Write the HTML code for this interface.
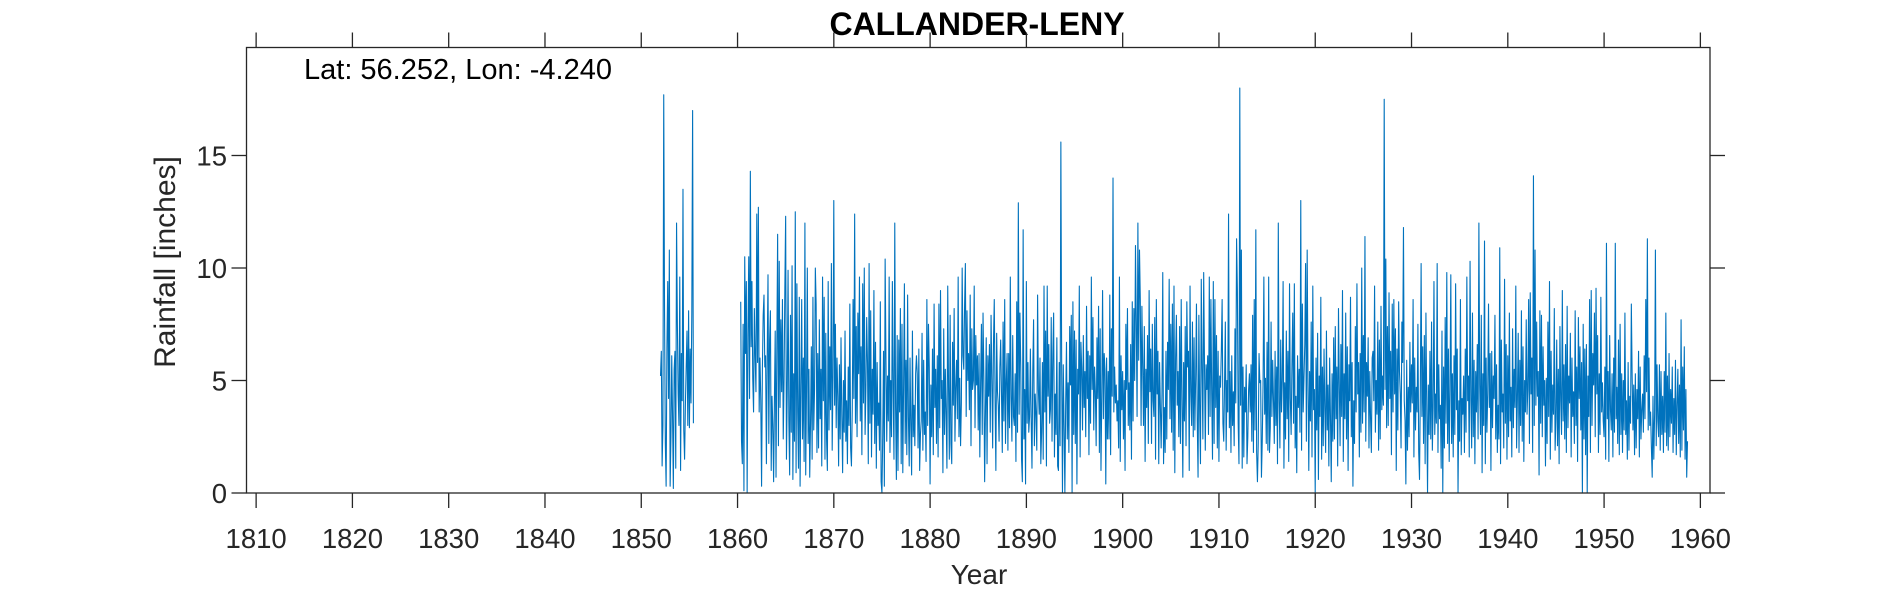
<!DOCTYPE html>
<html><head><meta charset="utf-8">
<style>
html,body{margin:0;padding:0;background:#fff;}
svg{display:block;font-family:"Liberation Sans",Arial,sans-serif;}
</style></head>
<body>
<svg id="chart" width="1890" height="591" viewBox="0 0 1890 591">
  <text x="977" y="35" text-anchor="middle" font-size="32" font-weight="bold" fill="#000">CALLANDER-LENY</text>
  <g id="plot"></g>
  <g id="axes"></g>
  <text x="304" y="79" font-size="29" fill="#000">Lat: 56.252, Lon: -4.240</text>
  <text x="979" y="584" text-anchor="middle" font-size="28" fill="#262626">Year</text>
  <text transform="translate(175,262) rotate(-90)" text-anchor="middle" font-size="30" fill="#262626">Rainfall [inches]</text>
</svg>
<script>
const xTicks = [1810,1820,1830,1840,1850,1860,1870,1880,1890,1900,1910,1920,1930,1940,1950,1960];
const yTicks = [0,5,10,15];
const seg1Start = 1852.0;
const seg1Values = [
5.2,6.3,1.2,3.0,17.7,8.1,2.2,0.3,6.5,9.4,4.2,10.8,
0.3,2.5,6.1,3.4,0.2,5.5,6.3,1.1,12.0,7.5,4.4,3.0,
9.6,1.0,6.2,4.1,13.5,2.8,1.5,3.9,5.6,7.2,3.0,8.1,
2.9,6.4,4.0,8.0,17.0,3.1];
const seg2Start = 1860.33;
const seg2Values = [
8.5,2.3,1.3,7.5,0.1,10.5,6.2,9.4,
0.0,7.0,10.5,4.2,14.3,6.5,9.4,5.1,3.6,8.2,6.1,4.5,
12.4,5.8,12.7,3.6,6.0,4.1,0.3,5.5,7.9,8.8,5.6,6.1,
1.3,6.0,9.7,2.2,6.8,8.1,1.0,4.3,3.0,0.5,4.1,7.2,
0.7,6.4,11.5,2.1,10.3,3.8,7.7,4.5,8.6,2.4,5.0,9.1,
12.3,1.5,4.6,9.9,3.2,0.8,7.9,2.7,10.1,0.6,5.3,2.3,
12.5,0.9,9.3,3.6,1.1,8.7,0.3,4.7,8.6,2.4,6.0,1.4,
12.0,0.8,4.6,10.0,2.2,5.5,0.7,3.1,6.5,1.5,8.7,2.8,
4.6,10.0,8.4,1.8,6.2,2.0,7.7,3.3,5.5,1.2,9.6,4.1,
8.7,1.5,7.1,2.4,1.0,9.4,2.8,6.5,3.7,10.2,1.9,5.2,
13.0,3.9,7.5,2.9,6.0,4.3,1.2,5.7,2.4,6.9,3.4,0.9,
5.0,2.7,7.2,2.3,4.1,1.3,5.6,3.0,8.4,2.0,1.2,3.7,
8.6,4.2,12.4,3.1,7.4,2.5,8.0,5.3,9.6,3.2,6.5,1.7,
9.3,4.0,10.0,2.6,4.6,7.8,5.8,1.3,10.2,3.1,8.1,1.6,
5.5,3.5,9.0,2.2,6.7,1.1,5.8,3.0,4.0,1.9,8.5,0.5,
0.0,2.6,6.3,0.3,10.4,6.0,2.3,5.2,3.2,9.6,1.8,5.0,
2.5,9.4,4.5,1.5,12.0,3.8,0.6,7.0,1.0,6.8,3.6,8.2,
1.3,7.5,0.9,4.8,9.3,2.2,5.9,1.7,8.8,3.4,1.2,6.0,
3.0,0.8,7.2,2.5,3.9,2.1,5.3,6.1,5.3,2.0,6.4,1.0,
2.6,3.2,7.1,1.9,5.9,2.6,3.6,1.4,8.6,3.0,7.5,5.6,
0.4,4.8,2.5,6.4,1.7,8.4,3.8,5.5,2.2,6.1,1.6,8.4,
2.9,9.0,4.2,5.0,0.9,7.3,2.6,5.5,3.5,1.1,9.2,4.7,
1.5,7.9,2.2,1.3,6.7,3.9,8.2,2.3,4.7,5.9,3.3,9.6,
2.5,5.1,2.1,4.0,10.0,6.1,5.5,8.3,10.2,3.4,8.1,5.0,
6.2,3.7,8.8,2.1,7.3,4.6,5.0,9.2,2.9,7.0,4.8,6.1,
2.8,6.2,1.6,4.9,7.5,2.6,8.0,5.2,0.5,3.6,6.9,1.3,
6.1,4.3,6.6,2.7,7.9,5.1,2.0,6.6,8.6,4.2,1.0,7.1,
4.5,3.9,2.3,5.6,6.8,4.4,1.8,7.6,3.2,8.6,2.2,5.0,
6.2,1.9,6.2,2.9,9.6,4.3,2.3,7.0,3.4,3.0,5.3,1.4,
8.5,2.7,12.9,3.5,8.0,5.7,1.5,0.5,11.7,2.4,4.6,0.4,
9.4,3.1,5.8,2.7,3.4,6.4,3.3,1.1,5.4,7.7,2.1,4.4,
3.5,1.9,8.8,4.6,3.5,6.0,1.3,2.7,5.8,1.5,9.2,3.6,
7.2,1.2,9.2,4.3,6.6,3.1,3.7,7.8,2.3,6.2,8.0,1.6,
4.4,2.6,6.9,1.2,1.0,5.8,2.1,15.6,5.7,0.0,5.7,3.0,
0.0,3.9,6.7,2.4,4.9,1.8,7.4,4.8,7.9,0.0,8.5,2.6,
7.2,2.2,6.8,0.4,5.5,4.4,9.2,1.6,6.7,5.5,2.8,7.0,
3.8,5.4,2.5,8.3,4.2,6.3,1.7,6.1,3.1,9.6,4.6,7.8,
2.8,5.6,4.5,2.1,6.9,4.2,8.3,1.8,7.3,1.0,4.3,9.0,
3.3,6.2,5.5,0.4,6.0,2.4,5.4,2.4,8.8,1.7,7.3,4.3,
14.0,3.6,5.6,4.0,4.8,3.2,4.1,2.0,9.6,1.4,6.1,3.7,
5.4,2.4,5.0,1.0,7.5,4.6,8.2,3.0,4.9,2.8,6.6,1.5,
8.5,3.2,8.2,5.0,11.0,7.6,3.4,12.0,5.9,10.8,8.6,3.0,
8.3,5.6,3.0,7.4,1.4,5.5,3.8,7.0,2.2,9.0,4.5,6.4,
2.2,7.5,4.1,3.4,7.8,1.5,8.6,4.4,6.3,1.3,5.8,3.9,
2.0,4.4,9.8,1.3,3.8,1.8,6.3,2.4,6.7,4.6,9.5,3.3,
7.5,2.7,8.4,1.9,9.2,0.9,6.0,7.9,3.9,5.4,2.5,7.4,
2.2,8.6,4.1,0.7,5.8,3.2,7.4,2.1,8.5,5.6,6.3,1.0,
9.2,4.5,3.0,7.6,2.5,6.9,2.8,5.1,8.4,3.2,0.7,7.9,
3.6,1.3,9.5,5.5,2.4,9.8,5.8,1.9,5.7,4.6,6.1,2.6,
9.6,3.4,8.6,4.4,1.5,9.4,2.2,8.6,3.8,7.0,2.0,6.3,
1.4,5.2,4.7,6.3,8.6,3.1,2.3,4.8,7.6,1.9,5.0,3.6,
12.4,2.9,5.4,1.8,6.1,3.0,4.5,2.1,7.3,4.0,11.3,9.0,
3.1,1.3,18.0,3.9,10.8,1.1,5.6,1.6,4.7,3.6,5.7,1.3,
2.5,4.6,5.3,3.6,5.7,2.3,7.9,1.8,8.6,2.8,11.7,1.8,
0.5,2.2,6.2,4.9,5.0,0.7,2.3,4.8,9.6,3.5,5.1,2.2,
6.7,1.9,9.6,1.8,2.9,7.6,3.4,5.9,4.1,2.2,6.3,3.0,
5.6,1.3,12.0,4.1,2.0,6.8,3.6,5.0,9.4,1.1,4.9,2.4,
7.2,3.3,6.3,1.4,9.3,4.2,2.6,5.7,8.0,3.1,9.3,2.0,
4.3,0.9,6.1,3.8,5.5,2.7,13.0,1.9,8.4,3.6,5.1,6.6,
10.2,2.3,10.8,4.9,1.0,5.4,3.2,7.6,1.6,9.2,3.7,4.6,
0.0,6.0,2.8,7.1,0.6,5.2,3.4,8.7,1.5,5.6,2.1,6.4,
3.7,1.8,7.2,2.8,4.8,1.2,6.0,3.4,0.5,5.3,2.3,6.9,
2.4,7.4,3.3,5.6,1.2,8.2,4.9,2.1,6.6,3.4,9.0,1.4,
5.3,3.3,8.0,2.4,6.5,1.0,5.7,4.1,8.7,2.5,5.8,0.3,
4.1,2.2,7.4,3.6,9.3,4.4,5.8,1.6,6.2,2.7,10.0,3.1,
7.0,3.6,11.4,2.3,5.8,4.3,6.9,2.0,5.4,3.3,1.8,6.0,
6.3,4.1,9.2,2.7,5.0,3.5,7.6,1.9,6.8,2.4,8.3,3.7,
5.2,3.9,17.5,4.6,10.4,2.9,7.4,3.0,8.9,4.2,6.3,1.7,
8.4,3.6,8.6,4.4,7.3,1.0,6.4,2.8,8.5,5.4,4.4,2.0,
7.6,5.8,11.8,4.1,3.2,0.4,5.9,1.9,4.7,2.5,6.7,3.6,
5.7,4.0,8.6,1.6,6.0,2.8,4.7,3.6,7.5,1.8,0.6,4.5,
10.2,3.4,6.5,2.2,7.0,1.3,8.0,3.9,0.0,4.8,2.6,6.3,
2.4,7.6,1.9,3.8,9.4,2.6,4.4,3.1,10.2,1.8,5.7,3.3,
3.9,1.1,7.2,0.0,5.6,2.0,7.8,3.1,9.8,2.2,6.4,1.4,
4.6,9.7,2.2,5.3,1.6,6.1,2.6,9.3,3.7,6.4,0.0,4.1,
2.3,8.6,1.7,4.2,3.5,5.2,1.8,6.4,2.7,9.6,4.1,5.2,
1.6,10.3,4.1,2.0,8.0,2.5,5.9,1.3,5.4,3.6,6.6,2.4,
12.0,4.8,2.6,7.9,0.9,5.3,3.0,11.2,1.3,6.0,2.7,4.4,
8.4,3.8,6.2,1.0,6.3,2.9,5.2,4.2,7.9,2.4,5.7,1.8,
3.9,2.4,10.9,1.3,6.8,3.6,4.4,2.0,9.5,3.1,6.6,1.5,
6.1,2.5,8.0,3.2,4.7,1.6,7.3,2.9,5.5,3.8,9.2,2.0,
4.2,7.1,1.8,5.9,3.0,8.1,2.3,6.5,1.4,5.0,3.6,7.7,
3.5,4.6,8.6,2.2,8.9,4.4,6.0,1.8,14.1,3.0,10.8,3.9,
7.6,4.3,5.4,0.8,8.1,3.1,7.9,2.5,6.5,3.9,5.0,1.2,
5.1,2.2,7.6,3.4,9.4,1.5,6.3,2.7,4.8,3.5,8.2,1.9,
3.3,6.8,2.1,5.5,1.3,7.4,4.1,2.6,9.0,3.2,5.7,2.4,
6.6,1.8,8.3,2.9,5.2,4.0,7.1,1.6,6.0,3.4,4.5,2.2,
8.1,3.0,5.6,1.4,7.8,4.2,6.5,2.8,5.8,0.0,7.5,2.4,
6.4,1.7,6.6,0.0,5.2,3.4,8.6,1.8,9.0,3.0,6.2,4.8,
8.0,2.5,9.1,4.4,7.0,1.8,5.3,2.6,8.7,3.6,4.9,3.2,
2.5,5.6,1.5,11.1,3.3,5.4,1.4,7.0,3.7,2.8,5.3,1.6,
6.0,2.7,11.1,3.3,4.7,2.2,6.8,1.7,7.5,2.6,5.3,1.8,
5.0,2.8,8.0,2.6,4.1,1.5,5.8,1.9,4.3,3.1,8.4,5.2,
2.8,4.8,1.7,5.3,2.0,4.6,3.3,6.3,1.6,5.6,2.4,3.7,
4.4,2.7,6.1,3.3,8.6,4.5,11.3,2.8,6.0,3.0,3.6,2.0,
0.7,4.3,1.5,3.5,10.8,2.1,5.7,3.2,2.5,5.7,1.9,5.4,
2.6,4.3,1.8,5.4,2.7,8.0,2.1,5.2,1.9,6.2,2.5,4.6,
3.1,5.6,1.8,4.2,2.6,5.9,1.7,3.9,5.5,2.2,4.8,1.6,
7.7,1.9,5.6,2.8,6.5,1.5,4.6,0.7,2.3];

const X0 = 1809, X1 = 1961, PX0 = 246.5, PX1 = 1710;
const Y0 = 0, Y1 = 19.8, PY0 = 493, PY1 = 47.5;
function xs(t){ return PX0 + (t - X0) / (X1 - X0) * (PX1 - PX0); }
function ys(v){ return PY0 - (v - Y0) / (Y1 - Y0) * (PY0 - PY1); }

const NS = 'http://www.w3.org/2000/svg';
const plot = document.getElementById('plot');
const axes = document.getElementById('axes');

function drawSeries(start, vals, name){
  let d = '';
  vals.forEach((v, i) => {
    const t = start + i / 12;
    d += (i ? 'L' : 'M') + xs(t).toFixed(2) + ' ' + ys(v).toFixed(2);
  });
  const p = document.createElementNS(NS, 'path');
  p.setAttribute('d', d);
  p.setAttribute('fill', 'none');
  p.setAttribute('stroke', '#0072BD');
  p.setAttribute('stroke-width', '1.1');
  p.setAttribute('stroke-linejoin', 'round');
  
  
  plot.appendChild(p);
}
drawSeries(seg1Start, seg1Values, 'rainfall-line-1852');
drawSeries(seg2Start, seg2Values, 'rainfall-line-1860');

function line(x1, y1, x2, y2, name){
  const l = document.createElementNS(NS, 'line');
  l.setAttribute('x1', x1); l.setAttribute('y1', y1);
  l.setAttribute('x2', x2); l.setAttribute('y2', y2);
  l.setAttribute('stroke', '#262626');
  l.setAttribute('stroke-width', '1.3');
  
  
  axes.appendChild(l);
}
const box = document.createElementNS(NS, 'rect');
box.setAttribute('x', PX0); box.setAttribute('y', PY1);
box.setAttribute('width', PX1 - PX0); box.setAttribute('height', PY0 - PY1);
box.setAttribute('fill', 'none'); box.setAttribute('stroke', '#262626'); box.setAttribute('stroke-width', '1.3');


axes.appendChild(box);

const TL = 15;
xTicks.forEach(t => {
  const x = xs(t);
  line(x, PY0, x, PY0 + TL, 'x-tick');
  line(x, PY1, x, PY1 - TL, 'x-tick-top');
  const tx = document.createElementNS(NS, 'text');
  tx.setAttribute('x', x); tx.setAttribute('y', 548);
  tx.setAttribute('text-anchor', 'middle'); tx.setAttribute('font-size', '27.5'); tx.setAttribute('fill', '#262626');
  tx.textContent = t;
  
  
  axes.appendChild(tx);
});
yTicks.forEach(v => {
  const y = ys(v);
  line(PX0, y, PX0 - TL, y, 'y-tick');
  line(PX1, y, PX1 + TL, y, 'y-tick-right');
  const tx = document.createElementNS(NS, 'text');
  tx.setAttribute('x', 227); tx.setAttribute('y', y + 10);
  tx.setAttribute('text-anchor', 'end'); tx.setAttribute('font-size', '27.5'); tx.setAttribute('fill', '#262626');
  tx.textContent = v;
  
  
  axes.appendChild(tx);
});
</script>
</body></html>
